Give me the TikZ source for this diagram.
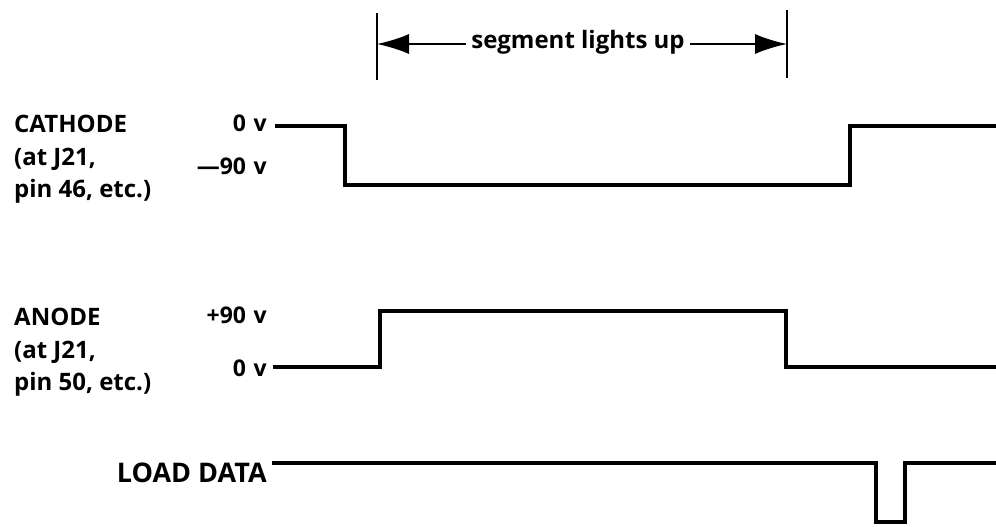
\documentclass[tikz,border=0pt]{standalone}
\usepackage{fontspec}
\setmainfont{Open Sans}
\usetikzlibrary{arrows.meta}

\begin{document}
\begin{tikzpicture}[x=1pt, y=-1pt,
    signal/.style={line width=3.2pt, line join=miter, line cap=butt},
    sigtext/.style={font=\fontsize{24}{32.5}\selectfont\bfseries, inner sep=0pt, align=left},
    lvl/.style={font=\fontsize{23}{28}\selectfont\bfseries, inner sep=0pt, anchor=east},
    bar/.style={line width=1.8pt},
    dim/.style={line width=1.6pt, -{Latex[length=32pt, width=20pt]}}
  ]
    \useasboundingbox (0,0) rectangle (996,527);
    % span marker
    \coordinate (lbar) at (377,44);
    \coordinate (rbar) at (787,44);
    \draw[bar] (377,13) -- (377,80);
    \draw[bar] (787,10) -- (787,78);
    \node[font=\fontsize{24}{28}\selectfont\bfseries, inner sep=5pt] (seg) at (578,42) {segment lights up};
    \draw[dim] (seg.west |- lbar) -- (lbar);
    \draw[dim] (seg.east |- rbar) -- (rbar);
    % cathode
    \node[sigtext, anchor=north west] (cathode) at (14,115) {CATHODE\\(at J21,\\pin 46, etc.)};
    \node[lvl] (chi) at (267,123) {0\,\,v};
    \node[lvl] (clo) at (267,166) {---90\,\,v};
    \draw[signal] (275,126) -- (345,126) -- (345,185) -- (850,185) -- (850,126) -- (996,126);
    % anode
    \node[sigtext, anchor=north west] (anode) at (14,308) {ANODE\\(at J21,\\pin 50, etc.)};
    \node[lvl] (ahi) at (267,315) {+90\,\,v};
    \node[lvl] (alo) at (267,368) {0\,\,v};
    \draw[signal] (273,367) -- (380,367) -- (380,311) -- (786,311) -- (786,367) -- (996,367);
    % load data
    \node[sigtext, font=\fontsize{27}{32}\selectfont\bfseries, anchor=north east] (load) at (267,463) {LOAD DATA};
    \draw[signal] (272,463) -- (876,463) -- (876,522) -- (905,522) -- (905,463) -- (996,463);
  \end{tikzpicture}
\end{document}
